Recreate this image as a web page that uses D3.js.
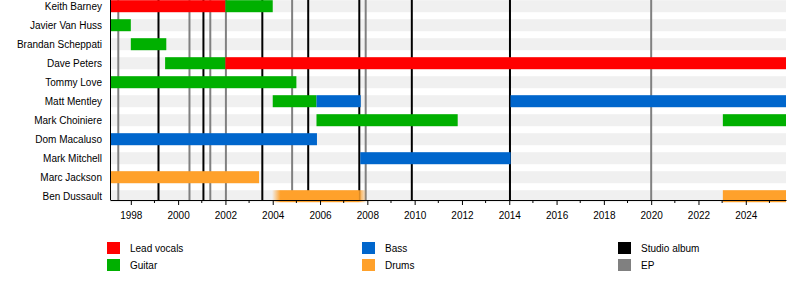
<!DOCTYPE html>
<html>
<head>
<meta charset="utf-8">
<style>
body { margin: 0; background: #fff; }
text { font-family: "Liberation Sans", Arial, sans-serif; font-size: 10px; fill: #000; }
</style>
</head>
<body>
<script src="https://cdn.jsdelivr.net/npm/d3@7"></script>
<script>

var members = ["Keith Barney", "Javier Van Huss", "Brandan Scheppati", "Dave Peters",
  "Tommy Love", "Matt Mentley", "Mark Choiniere", "Dom Macaluso", "Mark Mitchell",
  "Marc Jackson", "Ben Dussault"];

var roles = ["Lead vocals", "Guitar", "Bass", "Drums"];
var roleColors = ["#ff0000", "#00b000", "#0066cc", "#ffa12b"];

var start = 1997.12, end = 2025.7;

// member, role, from, to
var spans = [
  ["Keith Barney", "Lead vocals", start, 2002.0],
  ["Keith Barney", "Guitar", 2002.0, 2004.0],
  ["Javier Van Huss", "Guitar", start, 1998.0],
  ["Brandan Scheppati", "Guitar", 1998.0, 1999.5],
  ["Dave Peters", "Guitar", 1999.45, 2002.0],
  ["Dave Peters", "Lead vocals", 2002.0, end],
  ["Tommy Love", "Guitar", start, 2005.0],
  ["Matt Mentley", "Guitar", 2004.0, 2005.85],
  ["Matt Mentley", "Bass", 2005.85, 2007.72],
  ["Matt Mentley", "Bass", 2014.05, end],
  ["Mark Choiniere", "Guitar", 2005.85, 2011.82],
  ["Mark Choiniere", "Guitar", 2023.03, end],
  ["Dom Macaluso", "Bass", start, 2005.87],
  ["Mark Mitchell", "Bass", 2007.7, 2014.06],
  ["Marc Jackson", "Drums", start, 2003.42],
  ["Ben Dussault", "Drums", 2003.97, 2007.98],
  ["Ben Dussault", "Drums", 2023.03, end]
];
// spans drawn with soft ends
var fadedSpans = [15];

var studioAlbums = [1999.17, 2001.07, 2003.56, 2005.5, 2007.66, 2009.88, 2014.03];
var eps = [1997.47, 2000.48, 2001.36, 2002.02, 2004.82, 2007.93, 2020.0];

var tickYears = d3.range(1998, 2025, 2);
var minorYears = d3.range(1999, 2026, 2);

var width = 800, height = 290;
var left = 110, right = 786, axisY = 200;

var svg = d3.select("body").append("svg")
    .attr("width", width)
    .attr("height", height);

var x = d3.scaleLinear().domain([start, end]).range([left, right]);
var y = d3.scalePoint().domain(members).range([6.2, 196.2]);
var color = d3.scaleOrdinal().domain(roles).range(roleColors);
var barH = 12;

var defs = svg.append("defs");
var grad = defs.append("linearGradient").attr("id", "fade");
grad.append("stop").attr("offset", "0%").attr("stop-color", "#ffa12b").attr("stop-opacity", 0);
grad.append("stop").attr("offset", "9%").attr("stop-color", "#ffa12b").attr("stop-opacity", 1);
grad.append("stop").attr("offset", "91%").attr("stop-color", "#ffa12b").attr("stop-opacity", 1);
grad.append("stop").attr("offset", "100%").attr("stop-color", "#ffa12b").attr("stop-opacity", 0);

// row stripes
svg.append("g").selectAll("rect")
    .data(members)
    .enter().append("rect")
    .attr("x", left)
    .attr("width", right - left)
    .attr("y", function(d) { return y(d) - barH / 2; })
    .attr("height", barH)
    .style("fill", "#f0f0f0");

// release lines
var lines = studioAlbums.map(function(d) { return {year: d, kind: "album"}; })
  .concat(eps.map(function(d) { return {year: d, kind: "ep"}; }));

svg.append("g").selectAll("line")
    .data(lines)
    .enter().append("line")
    .attr("x1", function(d) { return x(d.year); })
    .attr("x2", function(d) { return x(d.year); })
    .attr("y1", 0)
    .attr("y2", axisY)
    .style("stroke", function(d) { return d.kind == "album" ? "#000" : "#808080"; })
    .style("stroke-width", 2);

// bars
svg.append("g").selectAll("rect")
    .data(spans)
    .enter().append("rect")
    .attr("x", function(d) { return x(d[2]); })
    .attr("width", function(d) { return x(d[3]) - x(d[2]); })
    .attr("y", function(d) { return y(d[0]) - barH / 2; })
    .attr("height", barH)
    .style("fill", function(d, i) {
      if (fadedSpans.indexOf(i) >= 0) { return "url(#fade)"; }
      return color(d[1]);
    });

// names
svg.append("g").selectAll("text")
    .data(members)
    .enter().append("text")
    .attr("x", 102)
    .attr("y", function(d) { return y(d); })
    .attr("dy", "0.35em")
    .attr("text-anchor", "end")
    .text(function(d) { return d; });

// axis
var axis = svg.append("g")
    .attr("transform", "translate(0," + axisY + ")")
    .call(d3.axisBottom(x).tickValues(tickYears).tickFormat(d3.format("d"))
      .tickSize(5).tickPadding(7).tickSizeOuter(0));
axis.select(".domain").style("stroke", "#000");
axis.selectAll("text").style("font-family", "Liberation Sans, Arial, sans-serif").style("font-size", "10px");

svg.append("g")
    .attr("transform", "translate(0," + axisY + ")")
    .selectAll("line")
    .data(minorYears)
    .enter().append("line")
    .attr("x1", function(d) { return x(d); })
    .attr("x2", function(d) { return x(d); })
    .attr("y1", 0)
    .attr("y2", 3)
    .style("stroke", "#000");

svg.append("line")
    .attr("x1", left + 0.5).attr("x2", left + 0.5)
    .attr("y1", 0).attr("y2", axisY)
    .style("stroke", "#000");

// legend
var legendItems = [
  {label: "Lead vocals", fill: color("Lead vocals"), x: 107, row: 0},
  {label: "Guitar", fill: color("Guitar"), x: 107, row: 1},
  {label: "Bass", fill: color("Bass"), x: 362, row: 0},
  {label: "Drums", fill: color("Drums"), x: 362, row: 1},
  {label: "Studio album", fill: "#000", x: 618, row: 0},
  {label: "EP", fill: "#808080", x: 618, row: 1}
];

var legend = svg.append("g").selectAll("g")
    .data(legendItems)
    .enter().append("g")
    .attr("transform", function(d) { return "translate(" + d.x + "," + (242 + d.row * 17) + ")"; });

legend.append("rect")
    .attr("width", 13)
    .attr("height", 12)
    .style("fill", function(d) { return d.fill; });

legend.append("text")
    .attr("x", 23)
    .attr("y", 6)
    .attr("dy", "0.35em")
    .text(function(d) { return d.label; });

</script>
</body>
</html>
